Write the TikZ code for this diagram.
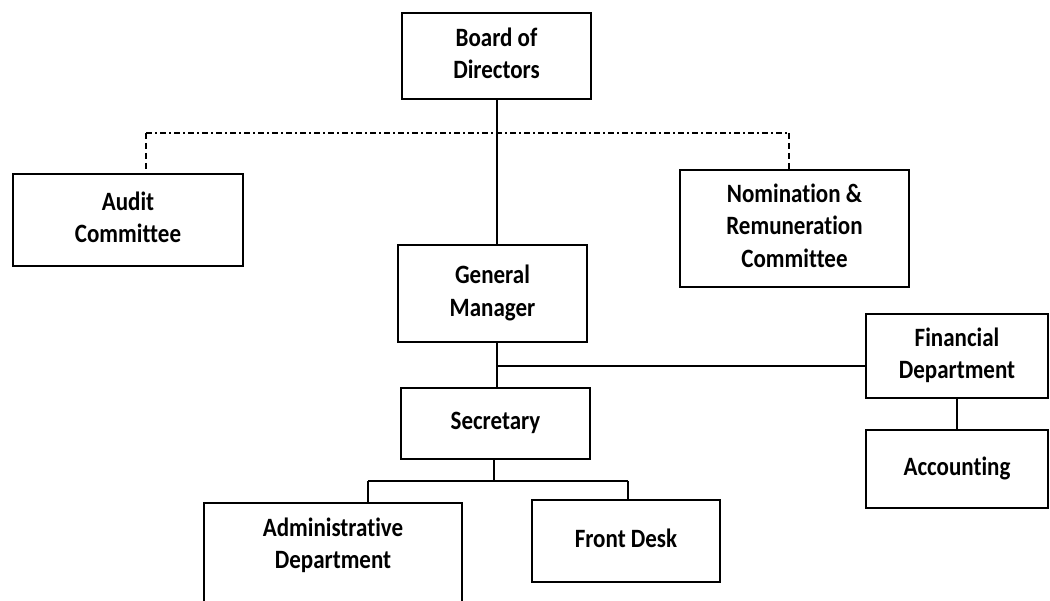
\documentclass[tikz,border=0pt]{standalone}
\usepackage{graphicx}
\usepackage{fontspec}
\setmainfont{Carlito}[Ligatures={NoCommon}]
\newcommand{\tx}[1]{\scalebox{1}[1.15]{\begin{tabular}{@{}c@{}}#1\end{tabular}}}
\begin{document}
\begin{tikzpicture}[x=1pt,y=-1pt,
  box/.style={draw=black, line width=1.6pt, inner sep=0pt, align=center,
    font=\bfseries\fontsize{23}{28}\selectfont},
  txt/.style={inner sep=0pt, align=center, font=\bfseries\fontsize{23}{28}\selectfont},
  conn/.style={draw=black, line width=1.6pt},
  dconn/.style={draw=black, line width=1.3pt, dash pattern=on 6pt off 4pt},
  ddconn/.style={draw=black, line width=1.3pt, dash pattern=on 6pt off 3pt on 2pt off 3pt}]
\useasboundingbox (0,0) rectangle (1050,601);
\clip (0,0) rectangle (1050,601);
\fill[white] (0,0) rectangle (1050,601);
% nodes
\node[box, minimum width=189, minimum height=86] (bod) at (496.5,56) {\tx{Board of\\Directors}};
\node[box, minimum width=230, minimum height=92] (aud) at (128,220) {\tx{Audit\\Committee}};
\node[box, minimum width=229, minimum height=117] (nom) at (794.5,228.5) {\tx{Nomination \&\\Remuneration\\Committee}};
\node[box, minimum width=189, minimum height=97] (gm) at (492.5,293.5) {\tx{General\\Manager}};
\node[box, minimum width=182, minimum height=84] (fin) at (957,356) {\tx{Financial\\Department}};
\node[box, minimum width=182, minimum height=78] (acc) at (957,469) {\tx{Accounting}};
\node[box, minimum width=189, minimum height=71] (sec) at (495.5,423.5) {\tx{Secretary}};
\node[box, minimum width=258, minimum height=140, anchor=north] (adm) at (333,502) {};
\node[txt] (admt) at (333,546) {\tx{Administrative\\Department}};
\node[box, minimum width=188, minimum height=82] (fd) at (626,541) {\tx{Front Desk}};
% coordinates
\coordinate (top) at (497,99);
\coordinate (la) at (146,133);
\coordinate (ra) at (789,133);
\coordinate (j1) at (497,366);
\coordinate (sb) at (494,459);
\coordinate (j2) at (494,481);
\coordinate (l2) at (368,481);
\coordinate (r2) at (628,481);
% connectors
\draw[conn] (top) -- (top |- gm.north);
\draw[ddconn] (la) -- (ra);
\draw[dconn] (la) -- (la |- aud.north);
\draw[dconn] (ra) -- (ra |- nom.north);
\draw[conn] (top |- gm.south) -- (top |- sec.north);
\draw[conn] (j1) -- (j1 -| fin.west);
\draw[conn] (fin.south) -- (acc.north);
\draw[conn] (sb) -- (j2);
\draw[conn] (l2) -- (r2);
\draw[conn] (l2) -- (l2 |- adm.north);
\draw[conn] (r2) -- (r2 |- fd.north);
\end{tikzpicture}
\end{document}
